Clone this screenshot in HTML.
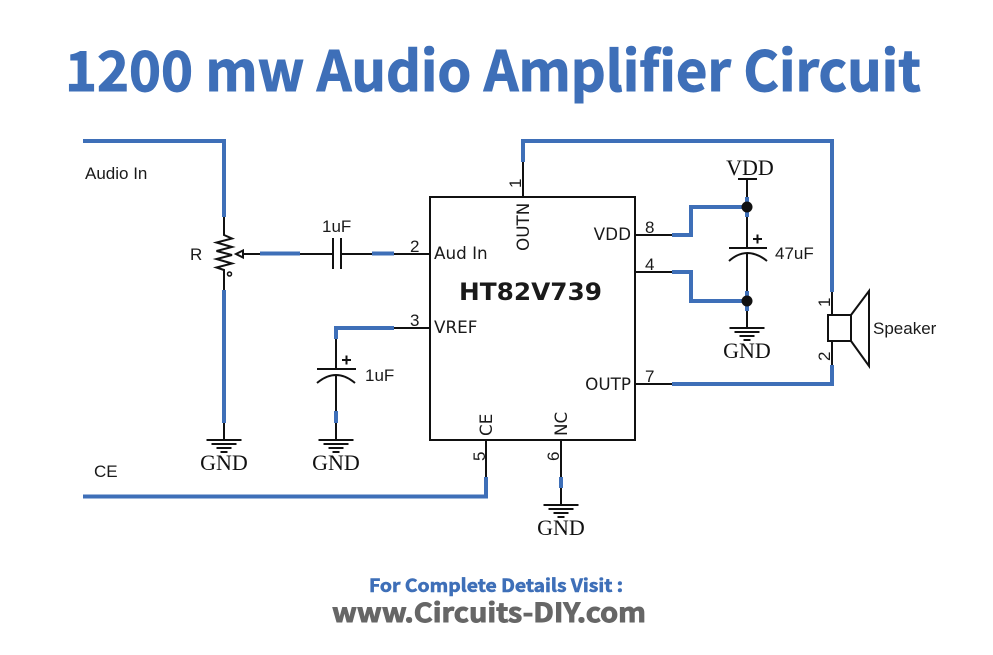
<!DOCTYPE html>
<html><head><meta charset="utf-8"><style>
html,body{margin:0;padding:0;background:#fff}
svg{display:block}
.b{stroke:#3e6fb8;stroke-width:4;fill:none;stroke-linejoin:miter}
.k{stroke:#111;stroke-width:2;fill:none}
.t{font-family:"Liberation Sans",sans-serif;fill:#1a1a1a;font-size:17px}
.d{font-family:"DejaVu Sans",sans-serif;fill:#1a1a1a;font-size:16.800px}
.s{font-family:"Liberation Serif",serif;fill:#111;font-size:22px;text-anchor:middle}
.n{font-family:"Noto Sans CJK JP","Liberation Sans",sans-serif;font-weight:700}
</style></head><body>
<svg width="993" height="655" viewBox="0 0 993 655" xmlns="http://www.w3.org/2000/svg">
<defs>
<g id="g"><path class="k" d="M-17.500 0H17.500M-12.500 4H12.500M-7.500 8H7.500M-3.500 12H3.500"/></g>
</defs>
<text class="n" x="65" y="91" font-size="55" fill="#3e6fb8" stroke="#3e6fb8" stroke-width="1" textLength="856" lengthAdjust="spacingAndGlyphs">1200 mw Audio Amplifier Circuit</text>

<!-- IC -->
<rect x="430" y="197" width="205" height="243" fill="none" stroke="#111" stroke-width="2"/>
<text class="d" x="459" y="300" style="font-size:24px;font-weight:700" fill="#111" textLength="143" lengthAdjust="spacingAndGlyphs">HT82V739</text>
<text class="d" x="434" y="259">Aud In</text>
<text class="d" x="434" y="333">VREF</text>
<text class="d" x="631" y="240" text-anchor="end">VDD</text>
<text class="d" x="631" y="390" text-anchor="end">OUTP</text>
<text class="d" transform="translate(529,251) rotate(-90)">OUTN</text>
<text class="d" transform="translate(492,436) rotate(-90)">CE</text>
<text class="d" transform="translate(567,436) rotate(-90)">NC</text>

<!-- black wires -->
<path class="k" d="M224 217V235L232 238.500L216.500 242.500L232 247L216.500 251L232 255L216.500 259L232 263.500L216.500 267.500L224 270V290"/>
<circle cx="229.500" cy="274" r="2" fill="none" stroke="#111" stroke-width="1.500"/>
<path class="k" d="M224 422V440"/>
<use href="#g" x="224" y="440"/>
<path d="M236 254L243 250.500V257.500Z" fill="none" stroke="#111" stroke-width="2"/>
<path class="k" d="M243 254H333M341 254H430"/>
<path class="k" d="M333 238V269M341 238V269"/>
<path class="k" d="M394 328H430M336 338V369M317 369H356M317 383Q336 367 355 383M336 375V440"/>
<path class="k" d="M342 360H351M346.500 355.500V364.500"/>
<use href="#g" x="336" y="440"/>
<path class="k" d="M523 162V197"/>
<path class="k" d="M635 235H672M635 272H672M635 384H672"/>
<path class="k" d="M747 179V248M738 179H757M729 248H767M729 261Q747 245 767 261M747 253V328M753 239H762M757.500 234.500V243.500"/>
<use href="#g" x="747" y="328"/>
<path class="k" d="M832 292V315M832 341V366"/>
<path class="k" d="M828 315H851V341H828ZM851 315L869 291V366L851 341"/>
<path class="k" d="M486 440V477M561 440V505"/>
<use href="#g" x="561" y="505"/>

<!-- blue wires -->
<path class="b" d="M83 141H224V217"/>
<path class="b" d="M224 290V423"/>
<path class="b" d="M260 253.500H300M372 253.500H394"/>
<path class="b" d="M394 328H336V339"/>
<path class="b" d="M336 411V423"/>
<path class="b" d="M523 162V141H832V292"/>
<path class="b" d="M672 235H691V207H747"/>
<path class="b" d="M672 272H691V301H747"/>
<path class="b" d="M747 197V217M747 291V311"/>
<path class="b" d="M672 384H832V365"/>
<path class="b" d="M83 496.500H486V477"/>
<path class="b" d="M561 477V488"/>
<circle cx="747" cy="207" r="5.500" fill="#111"/>
<circle cx="747" cy="301" r="5.500" fill="#111"/>

<!-- labels -->
<text class="t" x="85" y="179">Audio In</text>
<text class="t" x="190" y="260">R</text>
<text class="t" x="322" y="232">1uF</text>
<text class="t" x="365" y="381">1uF</text>
<text class="t" x="775" y="259">47uF</text>
<text class="t" x="873" y="334">Speaker</text>
<text class="t" x="94" y="477">CE</text>
<text class="t" x="410" y="252">2</text>
<text class="t" x="410" y="326">3</text>
<text class="t" x="645" y="233">8</text>
<text class="t" x="645" y="270">4</text>
<text class="t" x="645" y="382">7</text>
<text class="t" transform="translate(521,188) rotate(-90)">1</text>
<text class="t" transform="translate(485,461) rotate(-90)">5</text>
<text class="t" transform="translate(559,461) rotate(-90)">6</text>
<text class="t" transform="translate(830,307) rotate(-90)">1</text>
<text class="t" transform="translate(830,361) rotate(-90)">2</text>
<text class="s" x="224" y="470">GND</text>
<text class="s" x="336" y="470">GND</text>
<text class="s" x="561" y="535">GND</text>
<text class="s" x="747" y="358">GND</text>
<text class="s" x="750" y="175">VDD</text>

<text class="n" x="369" y="592" font-size="18" fill="#3e6fb8" stroke="#3e6fb8" stroke-width="0.600" textLength="254" lengthAdjust="spacingAndGlyphs">For Complete Details Visit :</text>
<text class="n" x="332" y="622" font-size="26" fill="#666" stroke="#666" stroke-width="0.900" textLength="314" lengthAdjust="spacingAndGlyphs">www.Circuits-DIY.com</text>
</svg>
</body></html>
